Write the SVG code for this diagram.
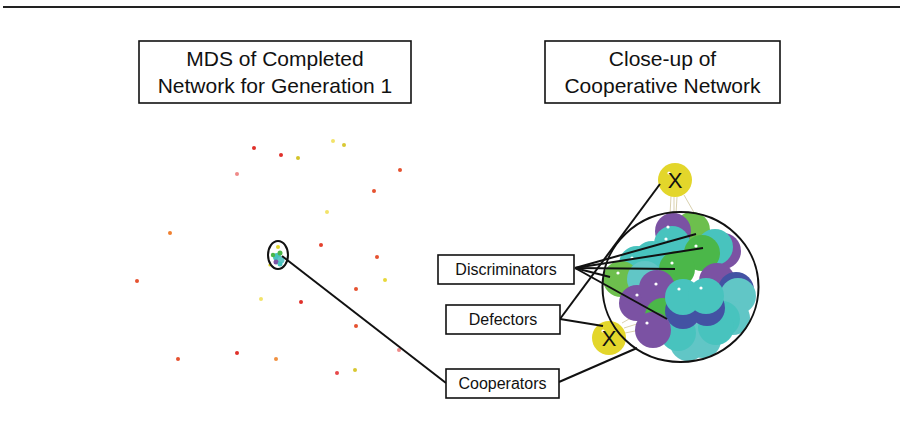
<svg xmlns="http://www.w3.org/2000/svg" width="900" height="447" viewBox="0 0 900 447">
<style>
  text { font-family: "Liberation Sans", Arial, sans-serif; fill: #111; }
  .title { font-size: 21px; text-anchor: middle; }
  .lbl { font-size: 16px; text-anchor: middle; }
  .box { fill: #fff; stroke: #111; stroke-width: 1.6; }
  .conn { stroke: #111; stroke-width: 2; fill: none; }
  .edge { stroke: #c9bd8c; stroke-width: 0.7; fill: none; }
  .pu { fill: #7b52a3; }
  .te { fill: #48c3be; }
  .gr { fill: #4bb749; }
  .lg { fill: #6dbf4d; }
  .bl { fill: #4352a3; }
  .lt { fill: #61c6c6; }
  .wd { fill: #fff; }
  .yx { fill: #e3d62b; }
</style>
<rect width="900" height="447" fill="#fff"/>
<line x1="3" y1="7" x2="900" y2="7" stroke="#222" stroke-width="2"/>

<g id="title-left">
  <rect class="box" x="139" y="41" width="272" height="62"/>
  <text class="title" x="275" y="66">MDS of Completed</text>
  <text class="title" x="275" y="93">Network for Generation 1</text>
</g>
<g id="title-right">
  <rect class="box" x="545" y="41" width="235" height="62"/>
  <text class="title" x="662.5" y="66">Close-up of</text>
  <text class="title" x="662.5" y="93">Cooperative Network</text>
</g>

<g id="mds-scatter">
  <circle cx="254" cy="148" r="2" fill="#e0302a"/>
  <circle cx="281" cy="155" r="2" fill="#e0302a"/>
  <circle cx="298" cy="158" r="2" fill="#d4c42a"/>
  <circle cx="333" cy="141" r="2" fill="#f2e36a"/>
  <circle cx="344" cy="145" r="2" fill="#d8c832"/>
  <circle cx="237" cy="174" r="2" fill="#ef8a88"/>
  <circle cx="400" cy="170" r="2" fill="#e65230"/>
  <circle cx="374" cy="191" r="2" fill="#e65230"/>
  <circle cx="327" cy="212" r="2" fill="#f2e36a"/>
  <circle cx="170" cy="233" r="2" fill="#f08030"/>
  <circle cx="321" cy="245" r="2" fill="#e4402c"/>
  <circle cx="377" cy="257" r="2" fill="#e65230"/>
  <circle cx="137" cy="281" r="2" fill="#e65230"/>
  <circle cx="385" cy="280" r="2" fill="#e8d83a"/>
  <circle cx="356" cy="289" r="2" fill="#e65230"/>
  <circle cx="261" cy="299" r="2" fill="#f2e36a"/>
  <circle cx="301" cy="302" r="2" fill="#e0302a"/>
  <circle cx="356" cy="326" r="2" fill="#e65230"/>
  <circle cx="399" cy="350" r="2" fill="#ef8a88"/>
  <circle cx="178" cy="359" r="2" fill="#e65230"/>
  <circle cx="237" cy="353" r="2" fill="#e0302a"/>
  <circle cx="276" cy="359" r="2" fill="#f09040"/>
  <circle cx="337" cy="373" r="2" fill="#e8484a"/>
  <circle cx="355" cy="370" r="2" fill="#d8c832"/>
</g>

<g id="mds-cluster">
  <circle cx="278" cy="247" r="2" fill="#e3d62b"/>
  <circle cx="270" cy="265" r="1.6" fill="#e3d62b"/>
  <circle cx="277" cy="257" r="4" class="te"/>
  <circle cx="281" cy="260" r="3.5" class="lt"/>
  <circle cx="280" cy="253" r="2.5" class="gr"/>
  <circle cx="276" cy="262" r="2.5" class="pu"/>
  <circle cx="280" cy="264" r="2.5" class="te"/>
  <circle cx="273" cy="255" r="2.2" class="gr"/>
  <ellipse cx="278" cy="255" rx="10" ry="14" fill="none" stroke="#111" stroke-width="2"/>
</g>

<g id="closeup-edges">
  <line class="edge" x1="671" y1="196" x2="670" y2="215"/>
  <line class="edge" x1="674" y1="197" x2="674" y2="216"/>
  <line class="edge" x1="677" y1="197" x2="676" y2="214"/>
  <line class="edge" x1="684" y1="195" x2="700" y2="223"/>
  <line class="edge" x1="622" y1="323" x2="638" y2="314"/>
  <line class="edge" x1="624" y1="328" x2="640" y2="323"/>
  <line class="edge" x1="625" y1="333" x2="640" y2="330"/>
</g>

<g id="closeup-cluster">
  <circle cx="692" cy="230" r="18" class="lg"/>
  <circle cx="673" cy="231" r="18" class="pu"/>
  <circle cx="723" cy="251" r="18" class="pu"/>
  <circle cx="715" cy="247" r="18" class="te"/>
  <circle cx="672" cy="244" r="18" class="te"/>
  <circle cx="702" cy="253" r="18" class="gr"/>
  <circle cx="652" cy="259" r="18" class="te"/>
  <circle cx="637" cy="264" r="18" class="te"/>
  <circle cx="621" cy="279" r="18" class="lg"/>
  <circle cx="645" cy="279" r="18" class="lt"/>
  <circle cx="677" cy="269" r="18" class="gr"/>
  <circle cx="717" cy="281" r="18" class="pu"/>
  <circle cx="736" cy="290" r="18" class="bl"/>
  <circle cx="738" cy="296" r="18" class="lt"/>
  <circle cx="733" cy="318" r="17" class="lt"/>
  <circle cx="637" cy="303" r="18" class="pu"/>
  <circle cx="657" cy="288" r="18" class="pu"/>
  <circle cx="663" cy="316" r="18" class="gr"/>
  <circle cx="722" cy="319" r="18" class="te"/>
  <circle cx="703" cy="340" r="18" class="lt"/>
  <circle cx="688" cy="343" r="18" class="lt"/>
  <circle cx="678" cy="333" r="18" class="te"/>
  <circle cx="716" cy="327" r="18" class="te"/>
  <circle cx="683" cy="311" r="18" class="bl"/>
  <circle cx="707" cy="308" r="18" class="bl"/>
  <circle cx="683" cy="297" r="18" class="te"/>
  <circle cx="706" cy="296" r="18" class="te"/>
  <circle cx="653" cy="330" r="18" class="pu"/>
  <circle cx="668" cy="227" r="1.6" class="wd"/>
  <circle cx="666" cy="239" r="1.6" class="wd"/>
  <circle cx="696" cy="246" r="1.6" class="wd"/>
  <circle cx="632" cy="258" r="1.6" class="wd"/>
  <circle cx="618" cy="273" r="1.6" class="wd"/>
  <circle cx="672" cy="263" r="1.6" class="wd"/>
  <circle cx="656" cy="284" r="1.6" class="wd"/>
  <circle cx="679" cy="289" r="1.6" class="wd"/>
  <circle cx="701" cy="288" r="1.6" class="wd"/>
  <circle cx="637" cy="295" r="1.6" class="wd"/>
  <circle cx="647" cy="323" r="1.6" class="wd"/>
</g>

<g id="defector-top">
  <circle cx="675" cy="180" r="17" class="yx"/>
  <circle cx="669" cy="173" r="1.6" class="wd"/>
  <text x="675" y="188" font-size="22" text-anchor="middle">X</text>
</g>
<g id="defector-bottom">
  <circle cx="609" cy="338" r="17" class="yx"/>
  <circle cx="603" cy="331" r="1.6" class="wd"/>
  <text x="609" y="346" font-size="22" text-anchor="middle">X</text>
</g>

<g id="connectors">
  <ellipse cx="680.5" cy="287" rx="78" ry="75" class="conn"/>
  <line class="conn" x1="282" y1="256" x2="446" y2="383"/>
  <line class="conn" x1="575" y1="268" x2="696" y2="234"/>
  <line class="conn" x1="575" y1="268" x2="703" y2="248"/>
  <line class="conn" x1="575" y1="268" x2="675" y2="269"/>
  <line class="conn" x1="575" y1="268" x2="610" y2="277"/>
  <line class="conn" x1="575" y1="268" x2="667" y2="319"/>
  <line class="conn" x1="560" y1="319" x2="660" y2="184"/>
  <line class="conn" x1="560" y1="319" x2="603" y2="326"/>
  <line class="conn" x1="559" y1="382" x2="637" y2="348"/>
</g>

<g id="label-discriminators">
  <rect class="box" x="438" y="255" width="136" height="29"/>
  <text class="lbl" x="506" y="275">Discriminators</text>
</g>
<g id="label-defectors">
  <rect class="box" x="446" y="305" width="114" height="29"/>
  <text class="lbl" x="503" y="325">Defectors</text>
</g>
<g id="label-cooperators">
  <rect class="box" x="446" y="369" width="113" height="29"/>
  <text class="lbl" x="502.5" y="389">Cooperators</text>
</g>
</svg>
